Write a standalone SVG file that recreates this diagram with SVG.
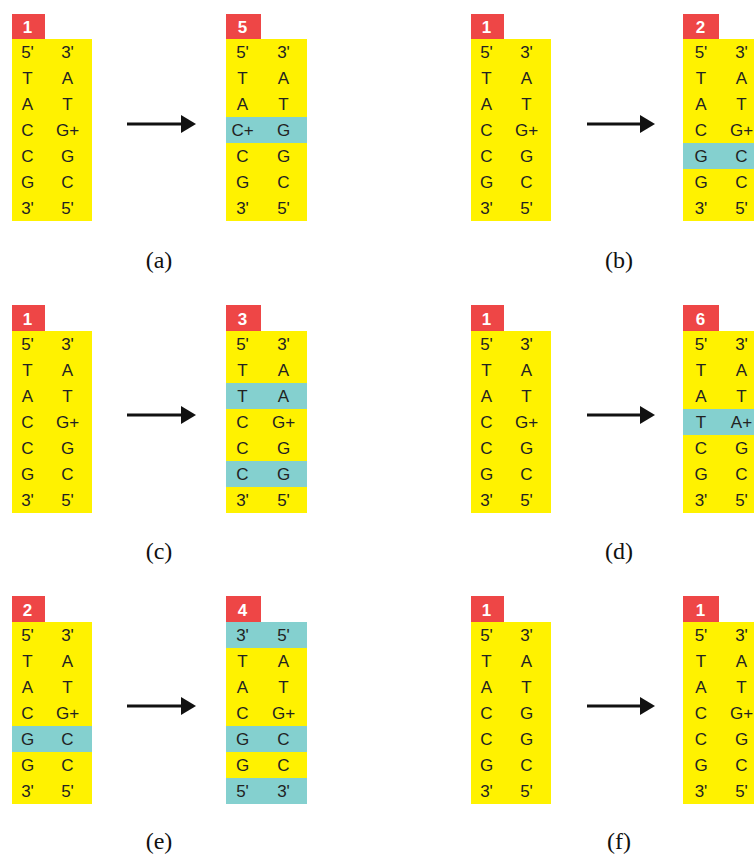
<svg xmlns="http://www.w3.org/2000/svg" width="754" height="854" viewBox="0 0 754 854">
<style>
.y{fill:#FFF200}
.t{fill:#84D0CF}
.r{fill:#EE4646}
.n{font-family:"Liberation Sans",Arial,sans-serif;font-size:17px;fill:#222;text-anchor:middle}
.l{font-family:"Liberation Sans",Arial,sans-serif;font-size:17px;font-weight:bold;fill:#fff;text-anchor:middle}
.c{font-family:"Liberation Serif","Times New Roman",serif;font-size:24px;fill:#111;text-anchor:middle}
.a{stroke:#111;stroke-width:3;fill:none}
</style>
<defs>
<marker id="ah" markerUnits="userSpaceOnUse" markerWidth="16" markerHeight="18" refX="0" refY="9" orient="auto">
<path d="M0,0 L15,9 L0,18 z" fill="#111"/>
</marker>
</defs>

<!-- (a) -->
<g id="a-left">
<rect class="r" x="12" y="14" width="33" height="25"/>
<text class="l" x="27.5" y="33">1</text>
<rect class="y" x="12" y="39" width="80" height="182"/>
<text class="n" x="27.5" y="58">5'</text><text class="n" x="67.5" y="58">3'</text>
<text class="n" x="27.5" y="84">T</text><text class="n" x="67.5" y="84">A</text>
<text class="n" x="27.5" y="110">A</text><text class="n" x="67.5" y="110">T</text>
<text class="n" x="27.5" y="136">C</text><text class="n" x="67.5" y="136">G+</text>
<text class="n" x="27.5" y="162">C</text><text class="n" x="67.5" y="162">G</text>
<text class="n" x="27.5" y="188">G</text><text class="n" x="67.5" y="188">C</text>
<text class="n" x="27.5" y="214">3'</text><text class="n" x="67.5" y="214">5'</text>
</g>
<g id="a-right">
<rect class="r" x="226" y="14" width="35" height="25"/>
<text class="l" x="242.5" y="33">5</text>
<rect class="y" x="226" y="39" width="81" height="182"/>
<rect class="t" x="226" y="117" width="81" height="26"/>
<text class="n" x="242.5" y="58">5'</text><text class="n" x="283.5" y="58">3'</text>
<text class="n" x="242.5" y="84">T</text><text class="n" x="283.5" y="84">A</text>
<text class="n" x="242.5" y="110">A</text><text class="n" x="283.5" y="110">T</text>
<text class="n" x="242.5" y="136">C+</text><text class="n" x="283.5" y="136">G</text>
<text class="n" x="242.5" y="162">C</text><text class="n" x="283.5" y="162">G</text>
<text class="n" x="242.5" y="188">G</text><text class="n" x="283.5" y="188">C</text>
<text class="n" x="242.5" y="214">3'</text><text class="n" x="283.5" y="214">5'</text>
</g>

<!-- (b) -->
<g id="b-left">
<rect class="r" x="471" y="14" width="33" height="25"/>
<text class="l" x="486.5" y="33">1</text>
<rect class="y" x="471" y="39" width="80" height="182"/>
<text class="n" x="486.5" y="58">5'</text><text class="n" x="526.5" y="58">3'</text>
<text class="n" x="486.5" y="84">T</text><text class="n" x="526.5" y="84">A</text>
<text class="n" x="486.5" y="110">A</text><text class="n" x="526.5" y="110">T</text>
<text class="n" x="486.5" y="136">C</text><text class="n" x="526.5" y="136">G+</text>
<text class="n" x="486.5" y="162">C</text><text class="n" x="526.5" y="162">G</text>
<text class="n" x="486.5" y="188">G</text><text class="n" x="526.5" y="188">C</text>
<text class="n" x="486.5" y="214">3'</text><text class="n" x="526.5" y="214">5'</text>
</g>
<g id="b-right">
<rect class="r" x="683" y="14" width="36" height="25"/>
<text class="l" x="700.5" y="33">2</text>
<rect class="y" x="683" y="39" width="83" height="182"/>
<rect class="t" x="683" y="143" width="83" height="26"/>
<text class="n" x="701" y="58">5'</text><text class="n" x="741.5" y="58">3'</text>
<text class="n" x="701" y="84">T</text><text class="n" x="741.5" y="84">A</text>
<text class="n" x="701" y="110">A</text><text class="n" x="741.5" y="110">T</text>
<text class="n" x="701" y="136">C</text><text class="n" x="741.5" y="136">G+</text>
<text class="n" x="701" y="162">G</text><text class="n" x="741.5" y="162">C</text>
<text class="n" x="701" y="188">G</text><text class="n" x="741.5" y="188">C</text>
<text class="n" x="701" y="214">3'</text><text class="n" x="741.5" y="214">5'</text>
</g>

<!-- (c) -->
<g id="c-left">
<rect class="r" x="12" y="305" width="33" height="26"/>
<text class="l" x="27.5" y="325">1</text>
<rect class="y" x="12" y="331" width="80" height="182"/>
<text class="n" x="27.5" y="350">5'</text><text class="n" x="67.5" y="350">3'</text>
<text class="n" x="27.5" y="376">T</text><text class="n" x="67.5" y="376">A</text>
<text class="n" x="27.5" y="402">A</text><text class="n" x="67.5" y="402">T</text>
<text class="n" x="27.5" y="428">C</text><text class="n" x="67.5" y="428">G+</text>
<text class="n" x="27.5" y="454">C</text><text class="n" x="67.5" y="454">G</text>
<text class="n" x="27.5" y="480">G</text><text class="n" x="67.5" y="480">C</text>
<text class="n" x="27.5" y="506">3'</text><text class="n" x="67.5" y="506">5'</text>
</g>
<g id="c-right">
<rect class="r" x="226" y="305" width="35" height="26"/>
<text class="l" x="242.5" y="325">3</text>
<rect class="y" x="226" y="331" width="81" height="182"/>
<rect class="t" x="226" y="383" width="81" height="26"/>
<rect class="t" x="226" y="461" width="81" height="26"/>
<text class="n" x="242.5" y="350">5'</text><text class="n" x="283.5" y="350">3'</text>
<text class="n" x="242.5" y="376">T</text><text class="n" x="283.5" y="376">A</text>
<text class="n" x="242.5" y="402">T</text><text class="n" x="283.5" y="402">A</text>
<text class="n" x="242.5" y="428">C</text><text class="n" x="283.5" y="428">G+</text>
<text class="n" x="242.5" y="454">C</text><text class="n" x="283.5" y="454">G</text>
<text class="n" x="242.5" y="480">C</text><text class="n" x="283.5" y="480">G</text>
<text class="n" x="242.5" y="506">3'</text><text class="n" x="283.5" y="506">5'</text>
</g>

<!-- (d) -->
<g id="d-left">
<rect class="r" x="471" y="305" width="33" height="26"/>
<text class="l" x="486.5" y="325">1</text>
<rect class="y" x="471" y="331" width="80" height="182"/>
<text class="n" x="486.5" y="350">5'</text><text class="n" x="526.5" y="350">3'</text>
<text class="n" x="486.5" y="376">T</text><text class="n" x="526.5" y="376">A</text>
<text class="n" x="486.5" y="402">A</text><text class="n" x="526.5" y="402">T</text>
<text class="n" x="486.5" y="428">C</text><text class="n" x="526.5" y="428">G+</text>
<text class="n" x="486.5" y="454">C</text><text class="n" x="526.5" y="454">G</text>
<text class="n" x="486.5" y="480">G</text><text class="n" x="526.5" y="480">C</text>
<text class="n" x="486.5" y="506">3'</text><text class="n" x="526.5" y="506">5'</text>
</g>
<g id="d-right">
<rect class="r" x="683" y="305" width="36" height="26"/>
<text class="l" x="700.5" y="325">6</text>
<rect class="y" x="683" y="331" width="83" height="182"/>
<rect class="t" x="683" y="409" width="83" height="26"/>
<text class="n" x="701" y="350">5'</text><text class="n" x="741.5" y="350">3'</text>
<text class="n" x="701" y="376">T</text><text class="n" x="741.5" y="376">A</text>
<text class="n" x="701" y="402">A</text><text class="n" x="741.5" y="402">T</text>
<text class="n" x="701" y="428">T</text><text class="n" x="741.5" y="428">A+</text>
<text class="n" x="701" y="454">C</text><text class="n" x="741.5" y="454">G</text>
<text class="n" x="701" y="480">G</text><text class="n" x="741.5" y="480">C</text>
<text class="n" x="701" y="506">3'</text><text class="n" x="741.5" y="506">5'</text>
</g>

<!-- (e) -->
<g id="e-left">
<rect class="r" x="12" y="596" width="33" height="26"/>
<text class="l" x="27.5" y="616">2</text>
<rect class="y" x="12" y="622" width="80" height="182"/>
<rect class="t" x="12" y="726" width="80" height="26"/>
<text class="n" x="27.5" y="641">5'</text><text class="n" x="67.5" y="641">3'</text>
<text class="n" x="27.5" y="667">T</text><text class="n" x="67.5" y="667">A</text>
<text class="n" x="27.5" y="693">A</text><text class="n" x="67.5" y="693">T</text>
<text class="n" x="27.5" y="719">C</text><text class="n" x="67.5" y="719">G+</text>
<text class="n" x="27.5" y="745">G</text><text class="n" x="67.5" y="745">C</text>
<text class="n" x="27.5" y="771">G</text><text class="n" x="67.5" y="771">C</text>
<text class="n" x="27.5" y="797">3'</text><text class="n" x="67.5" y="797">5'</text>
</g>
<g id="e-right">
<rect class="r" x="226" y="596" width="35" height="26"/>
<text class="l" x="242.5" y="616">4</text>
<rect class="y" x="226" y="622" width="81" height="182"/>
<rect class="t" x="226" y="622" width="81" height="26"/>
<rect class="t" x="226" y="726" width="81" height="26"/>
<rect class="t" x="226" y="778" width="81" height="26"/>
<text class="n" x="242.5" y="641">3'</text><text class="n" x="283.5" y="641">5'</text>
<text class="n" x="242.5" y="667">T</text><text class="n" x="283.5" y="667">A</text>
<text class="n" x="242.5" y="693">A</text><text class="n" x="283.5" y="693">T</text>
<text class="n" x="242.5" y="719">C</text><text class="n" x="283.5" y="719">G+</text>
<text class="n" x="242.5" y="745">G</text><text class="n" x="283.5" y="745">C</text>
<text class="n" x="242.5" y="771">G</text><text class="n" x="283.5" y="771">C</text>
<text class="n" x="242.5" y="797">5'</text><text class="n" x="283.5" y="797">3'</text>
</g>

<!-- (f) -->
<g id="f-left">
<rect class="r" x="471" y="596" width="33" height="26"/>
<text class="l" x="486.5" y="616">1</text>
<rect class="y" x="471" y="622" width="80" height="182"/>
<text class="n" x="486.5" y="641">5'</text><text class="n" x="526.5" y="641">3'</text>
<text class="n" x="486.5" y="667">T</text><text class="n" x="526.5" y="667">A</text>
<text class="n" x="486.5" y="693">A</text><text class="n" x="526.5" y="693">T</text>
<text class="n" x="486.5" y="719">C</text><text class="n" x="526.5" y="719">G</text>
<text class="n" x="486.5" y="745">C</text><text class="n" x="526.5" y="745">G</text>
<text class="n" x="486.5" y="771">G</text><text class="n" x="526.5" y="771">C</text>
<text class="n" x="486.5" y="797">3'</text><text class="n" x="526.5" y="797">5'</text>
</g>
<g id="f-right">
<rect class="r" x="683" y="596" width="36" height="26"/>
<text class="l" x="700.5" y="616">1</text>
<rect class="y" x="683" y="622" width="83" height="182"/>
<text class="n" x="701" y="641">5'</text><text class="n" x="741.5" y="641">3'</text>
<text class="n" x="701" y="667">T</text><text class="n" x="741.5" y="667">A</text>
<text class="n" x="701" y="693">A</text><text class="n" x="741.5" y="693">T</text>
<text class="n" x="701" y="719">C</text><text class="n" x="741.5" y="719">G+</text>
<text class="n" x="701" y="745">C</text><text class="n" x="741.5" y="745">G</text>
<text class="n" x="701" y="771">G</text><text class="n" x="741.5" y="771">C</text>
<text class="n" x="701" y="797">3'</text><text class="n" x="741.5" y="797">5'</text>
</g>

<g id="connectors">
<line class="a" x1="127" y1="124" x2="181" y2="124" marker-end="url(#ah)"/>
<line class="a" x1="587" y1="124" x2="640" y2="124" marker-end="url(#ah)"/>
<line class="a" x1="127" y1="415" x2="181" y2="415" marker-end="url(#ah)"/>
<line class="a" x1="587" y1="415" x2="640" y2="415" marker-end="url(#ah)"/>
<line class="a" x1="127" y1="706" x2="181" y2="706" marker-end="url(#ah)"/>
<line class="a" x1="587" y1="706" x2="640" y2="706" marker-end="url(#ah)"/>
</g>

<g id="captions">
<text class="c" x="159" y="268">(a)</text>
<text class="c" x="619" y="268">(b)</text>
<text class="c" x="159" y="559">(c)</text>
<text class="c" x="619" y="559">(d)</text>
<text class="c" x="159" y="849">(e)</text>
<text class="c" x="619" y="849">(f)</text>
</g>
</svg>
